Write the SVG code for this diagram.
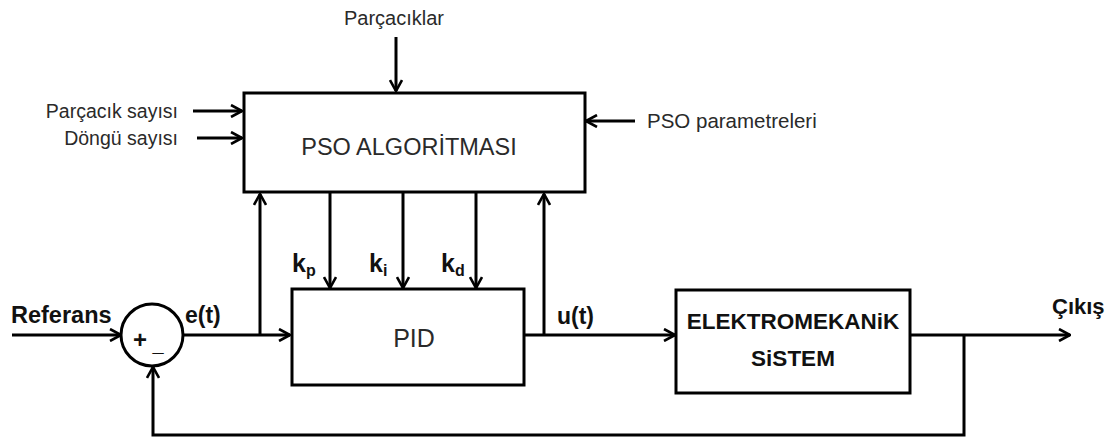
<svg xmlns="http://www.w3.org/2000/svg" width="1109" height="444" viewBox="0 0 1109 444">
<style>
.ln{fill:none;stroke:#000;stroke-width:3}
.bx{fill:#fff;stroke:#000;stroke-width:3}
.t{font-family:"Liberation Sans",Arial,sans-serif;fill:#2a2a2a}
.b{font-family:"Liberation Sans",Arial,sans-serif;font-weight:bold;fill:#111}
</style>
<defs>
<marker id="ar" viewBox="0 0 14 14" refX="13" refY="7" markerWidth="14" markerHeight="14" markerUnits="userSpaceOnUse" orient="auto">
<path d="M2,1 L13,7 L2,13" fill="none" stroke="#000" stroke-width="2.6"/>
</marker>
</defs>
<rect width="1109" height="444" fill="#fff"/>
<g id="connectors">
<line class="ln" x1="396" y1="37" x2="396" y2="91" marker-end="url(#ar)"/>
<line class="ln" x1="193" y1="111" x2="242" y2="111" marker-end="url(#ar)"/>
<line class="ln" x1="197" y1="138" x2="242" y2="138" marker-end="url(#ar)"/>
<line class="ln" x1="635" y1="121" x2="586" y2="121" marker-end="url(#ar)"/>
<line class="ln" x1="12" y1="335" x2="121" y2="335" marker-end="url(#ar)"/>
<line class="ln" x1="184" y1="335" x2="290" y2="335" marker-end="url(#ar)"/>
<line class="ln" x1="260" y1="335" x2="260" y2="194" marker-end="url(#ar)"/>
<line class="ln" x1="330" y1="193" x2="330" y2="288" marker-end="url(#ar)"/>
<line class="ln" x1="403" y1="193" x2="403" y2="288" marker-end="url(#ar)"/>
<line class="ln" x1="476" y1="193" x2="476" y2="288" marker-end="url(#ar)"/>
<line class="ln" x1="524" y1="335" x2="675" y2="335" marker-end="url(#ar)"/>
<line class="ln" x1="544" y1="335" x2="544" y2="194" marker-end="url(#ar)"/>
<line class="ln" x1="911" y1="335" x2="1070" y2="335" marker-end="url(#ar)"/>
<polyline class="ln" points="964,335 964,435 153,435 153,367" marker-end="url(#ar)"/>
</g>
<g id="pso">
<rect class="bx" x="244" y="93" width="341" height="99"/>
<text class="t" x="409" y="155" font-size="23.5" text-anchor="middle">PSO ALGORİTMASI</text>
</g>
<g id="pid">
<rect class="bx" x="292" y="289" width="232" height="96"/>
<text class="t" x="414" y="347" font-size="25" text-anchor="middle">PID</text>
</g>
<g id="sistem">
<rect class="bx" x="676" y="290" width="234" height="103"/>
<text class="b" x="793" y="329" font-size="22.5" text-anchor="middle">ELEKTROMEKANiK</text>
<text class="b" x="793" y="366" font-size="22.5" text-anchor="middle">SiSTEM</text>
</g>
<g id="sum">
<circle cx="152" cy="335" r="31" fill="#fff" stroke="#000" stroke-width="3"/>
<text class="b" x="140" y="348" font-size="24" text-anchor="middle">+</text>
<text class="b" x="158" y="351" font-size="20" text-anchor="middle">_</text>
</g>
<g id="labels">
<text class="t" x="394" y="25" font-size="20" text-anchor="middle">Parçacıklar</text>
<text class="t" x="178" y="118" font-size="19.5" text-anchor="end">Parçacık sayısı</text>
<text class="t" x="178" y="145" font-size="19.5" text-anchor="end">Döngü sayısı</text>
<text class="t" x="647" y="128" font-size="20.5">PSO parametreleri</text>
<text class="b" x="11" y="323" font-size="23.5">Referans</text>
<text class="b" x="185" y="323" font-size="23">e(t)</text>
<text class="b" x="557" y="324" font-size="23">u(t)</text>
<text class="b" x="1052" y="314" font-size="22">Çıkış</text>
<text class="b" x="292" y="272" font-size="25">k<tspan font-size="16" dy="4">p</tspan></text>
<text class="b" x="369" y="272" font-size="25">k<tspan font-size="16" dy="4">i</tspan></text>
<text class="b" x="441" y="272" font-size="25">k<tspan font-size="16" dy="4">d</tspan></text>
</g>
</svg>
